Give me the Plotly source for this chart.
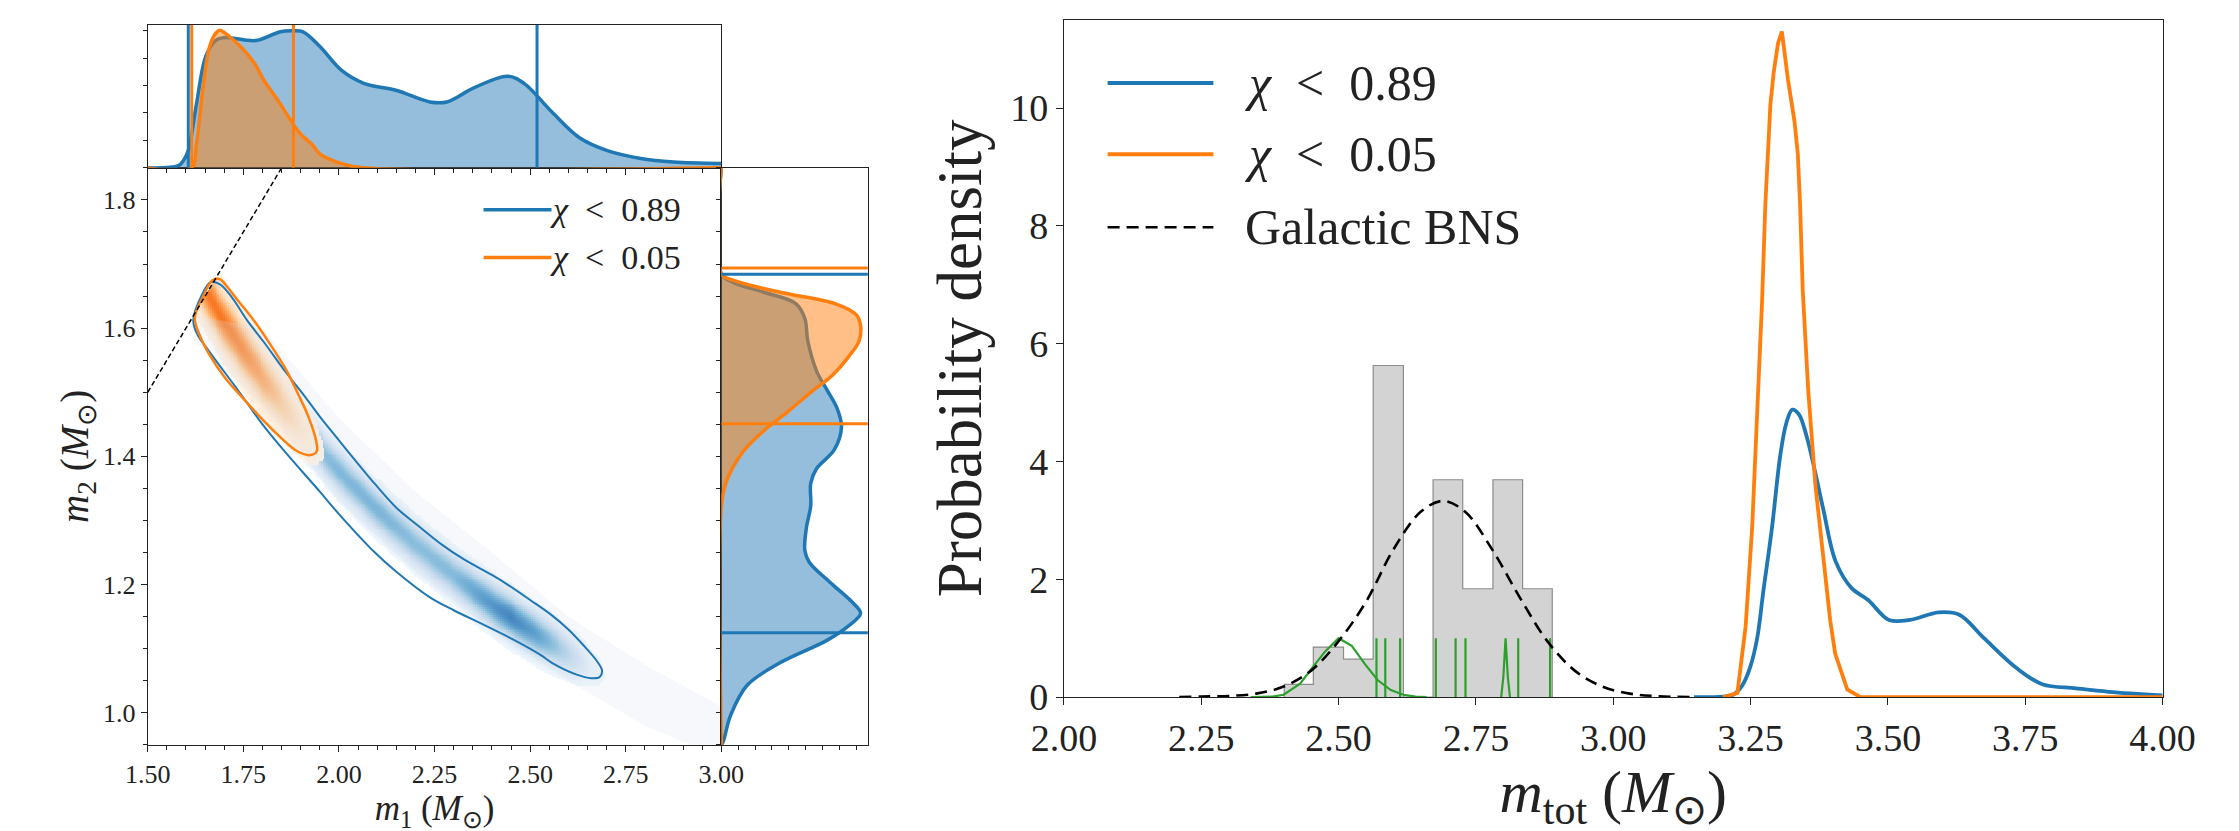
import numpy as np
import plotly.graph_objects as go

W, H = 2239, 831
def px(x): return x / W
def py(y): return 1 - y / H

BLUE = "#1f77b4"
ORANGE = "#ff7f0e"
GREEN = "#2ca02c"
FONT = "Liberation Serif, Times New Roman, serif"

# ---------------- left panel: joint m1-m2 posterior ----------------
ridge_m1 = [1.60, 1.70, 1.80, 1.90, 2.00, 2.10, 2.20, 2.30, 2.40, 2.50, 2.60, 2.70, 2.80, 2.90, 3.00]
ridge_m2 = [1.710, 1.610, 1.523, 1.446, 1.377, 1.317, 1.263, 1.215, 1.169, 1.129, 1.092, 1.057, 1.026, 0.997, 0.969]

blue_amp_m1 = [1.62, 1.70, 1.80, 1.90, 2.00, 2.10, 2.20, 2.30, 2.38, 2.45, 2.52, 2.60, 2.66, 2.72]
blue_amp = [0.28, 0.36, 0.45, 0.55, 0.66, 0.68, 0.62, 0.64, 0.85, 1.00, 0.82, 0.40, 0.10, 0.0]
blue_sigma = 0.021

orange_amp_m1 = [1.62, 1.66, 1.70, 1.75, 1.80, 1.85, 1.90, 1.95, 2.00]
orange_amp = [0.80, 1.00, 1.00, 0.92, 0.74, 0.48, 0.24, 0.06, 0.0]
orange_sigma = 0.027

band_m1 = [1.62, 1.80, 2.00, 2.20, 2.40, 2.60, 2.80, 3.00]
band_upper = [1.62, 1.60, 1.46, 1.345, 1.25, 1.15, 1.075, 1.01]
band_lower = [1.58, 1.48, 1.33, 1.22, 1.13, 1.05, 0.98, 0.93]

blue_contour_m1 = [1.619, 1.640, 1.665, 1.690, 1.720, 1.760, 1.804, 1.860, 1.905, 1.950, 2.000, 2.094, 2.150,
                   2.209, 2.270, 2.325, 2.400, 2.441, 2.500, 2.557, 2.600, 2.640, 2.673, 2.688, 2.682, 2.660,
                   2.620, 2.557, 2.528, 2.460, 2.383, 2.300, 2.238, 2.150, 2.094, 2.000, 1.950, 1.862, 1.800,
                   1.746, 1.700, 1.659, 1.630, 1.619]
blue_contour_m2 = [1.612, 1.650, 1.672, 1.668, 1.648, 1.612, 1.578, 1.532, 1.498, 1.462, 1.425, 1.357, 1.320,
                   1.291, 1.262, 1.240, 1.215, 1.200, 1.176, 1.152, 1.130, 1.105, 1.082, 1.066, 1.056, 1.054,
                   1.060, 1.078, 1.090, 1.113, 1.136, 1.160, 1.180, 1.220, 1.250, 1.310, 1.345, 1.405, 1.450,
                   1.495, 1.532, 1.565, 1.590, 1.612]

orange_contour_m1 = [1.623, 1.645, 1.670, 1.690, 1.703, 1.740, 1.775, 1.820, 1.862, 1.895, 1.920, 1.940, 1.942,
                     1.925, 1.891, 1.850, 1.804, 1.750, 1.703, 1.660, 1.635, 1.623]
orange_contour_m2 = [1.616, 1.650, 1.675, 1.676, 1.668, 1.640, 1.614, 1.575, 1.535, 1.495, 1.462, 1.425, 1.408,
                     1.402, 1.408, 1.428, 1.455, 1.490, 1.522, 1.560, 1.590, 1.616]

equal_mass = [1.50, 1.85]

# top marginal: m1 densities (relative height)
m1_blue_x = [1.50, 1.580, 1.593, 1.606, 1.627, 1.652, 1.678, 1.703, 1.762, 1.787, 1.847, 1.881, 1.905, 1.949,
             2.007, 2.065, 2.151, 2.238, 2.282, 2.354, 2.441, 2.484, 2.557, 2.629, 2.702, 2.789, 2.875, 3.00]
m1_blue_y = [0.0, 0.015, 0.05, 0.12, 0.44, 0.78, 0.89, 0.91, 0.89, 0.89, 0.95, 0.956, 0.95, 0.85,
             0.68, 0.59, 0.54, 0.46, 0.46, 0.56, 0.64, 0.59, 0.39, 0.21, 0.12, 0.065, 0.04, 0.03]
m1_orange_x = [1.50, 1.614, 1.627, 1.644, 1.661, 1.678, 1.688, 1.712, 1.745, 1.779, 1.804, 1.838, 1.872, 1.898,
               1.931, 1.949, 2.007, 2.065, 3.00]
m1_orange_y = [0.0, 0.0, 0.16, 0.55, 0.84, 0.94, 0.96, 0.92, 0.84, 0.73, 0.61, 0.48, 0.34, 0.24,
               0.16, 0.10, 0.03, 0.0, 0.0]
m1_bounds_blue = [1.606, 2.518]
m1_bounds_orange = [1.615, 1.881]

# right marginal: m2 densities (relative width)
m2_blue_y = [0.95, 0.956, 0.996, 1.043, 1.078, 1.113, 1.136, 1.155, 1.171, 1.200, 1.235, 1.253, 1.288, 1.323,
             1.358, 1.381, 1.410, 1.446, 1.475, 1.504, 1.533, 1.580, 1.615, 1.638, 1.656, 1.671, 1.685, 1.85]
m2_blue_x = [0.0, 0.014, 0.063, 0.176, 0.40, 0.72, 0.87, 0.95, 0.90, 0.76, 0.60, 0.57, 0.58, 0.61,
             0.61, 0.65, 0.77, 0.82, 0.79, 0.72, 0.65, 0.59, 0.57, 0.51, 0.29, 0.085, 0.0, 0.0]
m2_orange_y = [0.95, 1.323, 1.358, 1.405, 1.440, 1.469, 1.498, 1.527, 1.556, 1.580, 1.604, 1.621, 1.638, 1.656,
               1.674, 1.685, 1.85]
m2_orange_x = [0.0, 0.0, 0.03, 0.14, 0.29, 0.45, 0.60, 0.76, 0.87, 0.94, 0.95, 0.92, 0.78, 0.40,
               0.09, 0.0, 0.0]
m2_bounds_blue = [1.125, 1.684]
m2_bounds_orange = [1.451, 1.694]

# ---------------- right panel: total mass ----------------
mtot_blue_x = [3.147, 3.200, 3.218, 3.235, 3.249, 3.262, 3.273, 3.289, 3.304, 3.315, 3.326, 3.338, 3.352, 3.368,
               3.383, 3.405, 3.434, 3.464, 3.502, 3.540, 3.592, 3.630, 3.675, 3.736, 3.781, 3.842, 3.902, 4.0]
mtot_blue_y = [0.0, 0.01, 0.04, 0.2, 0.5, 1.0, 1.78, 2.88, 4.1, 4.65, 4.88, 4.8, 4.43, 3.8,
               3.16, 2.3, 1.85, 1.65, 1.31, 1.31, 1.44, 1.40, 1.0, 0.48, 0.22, 0.15, 0.09, 0.03]
mtot_orange_x = [3.200, 3.226, 3.241, 3.253, 3.271, 3.277, 3.286, 3.292, 3.300, 3.307, 3.318, 3.330, 3.336,
                 3.340, 3.345, 3.355, 3.368, 3.381, 3.395, 3.404, 3.426, 3.450, 4.0]
mtot_orange_y = [0.0, 0.07, 1.2, 2.9, 6.74, 8.39, 10.05, 10.6, 11.1, 11.3, 10.49, 9.77, 9.22,
                 8.39, 6.9, 5.2, 3.6, 2.5, 1.3, 0.74, 0.13, 0.0, 0.0]
bns_x = [2.21, 2.25, 2.30, 2.35, 2.40, 2.45, 2.50, 2.55, 2.60, 2.65, 2.69, 2.73, 2.78, 2.83, 2.88, 2.93, 2.98,
         3.03, 3.08, 3.15]
bns_y = [0.0, 0.01, 0.02, 0.06, 0.18, 0.45, 0.95, 1.62, 2.51, 3.15, 3.33, 3.15, 2.5, 1.69, 0.95, 0.45, 0.18,
         0.06, 0.017, 0.0]
hist_edges = [2.401, 2.454, 2.509, 2.563, 2.618, 2.672, 2.726, 2.781, 2.835, 2.889]
hist_heights = [0.215, 0.85, 0.645, 5.63, 0.0, 3.69, 1.84, 3.69, 1.84]
pulsar_wide_x = [2.34, 2.38, 2.40, 2.43, 2.453, 2.476, 2.50, 2.524, 2.548, 2.571, 2.595, 2.618, 2.64, 2.66]
pulsar_wide_y = [0.0, 0.01, 0.04, 0.23, 0.51, 0.78, 1.0, 0.87, 0.56, 0.29, 0.12, 0.04, 0.01, 0.0]
pulsar_mid_x = [2.796, 2.800, 2.804, 2.808, 2.812]
pulsar_mid_y = [0.0, 0.35, 1.0, 0.35, 0.0]
pulsar_narrow = [2.569, 2.585, 2.612, 2.677, 2.713, 2.731, 2.827, 2.885]
pulsar_narrow_peak = [1.0, 1.0, 1.0, 1.0, 1.0, 1.0, 1.0, 1.0]

legend_left = ["<i>χ</i>\u2002<\u20020.89", "<i>χ</i>\u2002<\u20020.05"]
legend_right = ["<i>χ</i>\u2002<\u20020.89", "<i>χ</i>\u2002<\u20020.05", "Galactic BNS"]

# ---------------- build figure ----------------
fig = go.Figure()

# faint chirp-mass band
fig.add_trace(go.Scatter(x=band_m1 + band_m1[::-1], y=band_upper + band_lower[::-1], fill="toself",
                         fillcolor="rgba(215,225,238,0.22)", line=dict(width=0), mode="lines",
                         hoverinfo="skip", xaxis="x", yaxis="y"))

gx = np.linspace(1.5, 3.0, 301)
gy = np.linspace(0.95, 1.85, 301)
GX, GY = np.meshgrid(gx, gy)
ridge = np.interp(GX, ridge_m1, ridge_m2)
dd = GY - ridge
zb = np.interp(GX, blue_amp_m1, blue_amp) * np.exp(-0.5 * (dd / blue_sigma) ** 2)
zb[(zb < 0.04) | (GY > GX)] = np.nan
zo = np.interp(GX, orange_amp_m1, orange_amp) * np.exp(-0.5 * (dd / orange_sigma) ** 2)
zo[(zo < 0.045) | (GY > GX)] = np.nan

blues = [[0, "#f7fbff"], [0.125, "#deebf7"], [0.25, "#c6dbef"], [0.375, "#9ecae1"], [0.5, "#6baed6"],
         [0.625, "#4292c6"], [0.75, "#2171b5"], [0.875, "#08519c"], [1, "#08306b"]]
oranges = [[0, "#fff5eb"], [0.125, "#fee6ce"], [0.25, "#fdd0a2"], [0.375, "#fdae6b"], [0.5, "#fd8d3c"],
           [0.625, "#f16913"], [0.75, "#d94801"], [0.875, "#a63603"], [1, "#7f2704"]]

fig.add_trace(go.Heatmap(x=gx, y=gy, z=np.round(zb, 4), colorscale=blues, zmin=0, zmax=1.3,
                         showscale=False, hoverinfo="skip", xaxis="x", yaxis="y"))
fig.add_trace(go.Heatmap(x=gx, y=gy, z=np.round(zo, 4), colorscale=oranges, zmin=0, zmax=1.75,
                         showscale=False, hoverinfo="skip", xaxis="x", yaxis="y"))

fig.add_trace(go.Scatter(x=blue_contour_m1, y=blue_contour_m2, mode="lines", line=dict(color=BLUE, width=2),
                         line_shape="spline", xaxis="x", yaxis="y"))
fig.add_trace(go.Scatter(x=orange_contour_m1, y=orange_contour_m2, mode="lines",
                         line=dict(color=ORANGE, width=2.5), line_shape="spline", xaxis="x", yaxis="y"))
fig.add_trace(go.Scatter(x=equal_mass, y=equal_mass, mode="lines",
                         line=dict(color="black", width=1.5, dash="5px,3px"), xaxis="x", yaxis="y"))

# top marginal
fig.add_trace(go.Scatter(x=m1_blue_x, y=m1_blue_y, mode="lines", fill="tozeroy", fillcolor="rgba(31,119,180,0.48)",
                         line=dict(color=BLUE, width=3.5), line_shape="spline", xaxis="x2", yaxis="y2"))
fig.add_trace(go.Scatter(x=m1_orange_x, y=m1_orange_y, mode="lines", fill="tozeroy",
                         fillcolor="rgba(255,127,14,0.5)", line=dict(color=ORANGE, width=3.5),
                         line_shape="spline", xaxis="x2", yaxis="y2"))
for vals, col in ((m1_bounds_blue, BLUE), (m1_bounds_orange, ORANGE)):
    xs, ys = [], []
    for v in vals:
        xs += [v, v, None]
        ys += [0, 1, None]
    fig.add_trace(go.Scatter(x=xs, y=ys, mode="lines", line=dict(color=col, width=3), xaxis="x2", yaxis="y2"))

# right marginal
fig.add_trace(go.Scatter(x=m2_blue_x, y=m2_blue_y, mode="lines", fill="tozerox", fillcolor="rgba(31,119,180,0.48)",
                         line=dict(color=BLUE, width=3.5), line_shape="spline", xaxis="x3", yaxis="y3"))
fig.add_trace(go.Scatter(x=m2_orange_x, y=m2_orange_y, mode="lines", fill="tozerox",
                         fillcolor="rgba(255,127,14,0.5)", line=dict(color=ORANGE, width=3.5),
                         line_shape="spline", xaxis="x3", yaxis="y3"))
for vals, col in ((m2_bounds_blue, BLUE), (m2_bounds_orange, ORANGE)):
    xs, ys = [], []
    for v in vals:
        xs += [0, 1, None]
        ys += [v, v, None]
    fig.add_trace(go.Scatter(x=xs, y=ys, mode="lines", line=dict(color=col, width=3), xaxis="x3", yaxis="y3"))

# right panel: histogram (step filled)
hx, hy = [hist_edges[0]], [0]
for i, h in enumerate(hist_heights):
    hx += [hist_edges[i], hist_edges[i + 1]]
    hy += [h, h]
hx.append(hist_edges[-1])
hy.append(0)
fig.add_trace(go.Scatter(x=hx, y=hy, mode="lines", fill="toself", fillcolor="#d3d3d3",
                         line=dict(color="#8c8c8c", width=1.2), xaxis="x4", yaxis="y4"))

# pulsar posteriors
gxs = list(pulsar_wide_x) + [None] + list(pulsar_mid_x) + [None]
gys = list(pulsar_wide_y) + [None] + list(pulsar_mid_y) + [None]
for c, p in zip(pulsar_narrow, pulsar_narrow_peak):
    gxs += [c, c, None]
    gys += [0, p, None]
fig.add_trace(go.Scatter(x=gxs, y=gys, mode="lines", line=dict(color=GREEN, width=2.2), xaxis="x4", yaxis="y4"))

fig.add_trace(go.Scatter(x=bns_x, y=bns_y, mode="lines", line=dict(color="black", width=2.6, dash="12px,7px"),
                         line_shape="spline", xaxis="x4", yaxis="y4"))
fig.add_trace(go.Scatter(x=mtot_blue_x, y=mtot_blue_y, mode="lines", line=dict(color=BLUE, width=3.8),
                         line_shape="spline", xaxis="x4", yaxis="y4"))
fig.add_trace(go.Scatter(x=mtot_orange_x, y=mtot_orange_y, mode="lines", line=dict(color=ORANGE, width=3.8),
                         xaxis="x4", yaxis="y4"))

# ---------------- axes ----------------
AX = dict(showline=True, mirror=True, linecolor="#222", linewidth=1.3, showgrid=False, zeroline=False,
          ticks="outside", tickcolor="#222", tickwidth=1.2, ticklen=6)
main_x_dom = [px(110), px(701)]
main_y_dom = [py(756), py(164)]
tickfont_small = dict(family=FONT, size=26, color="#222")
tickfont_big = dict(family=FONT, size=38, color="#222")
minor = dict(ticks="outside", ticklen=3.5, tickwidth=1, tickcolor="#222", dtick=0.05)

fig.update_layout(
    width=W, height=H, margin=dict(l=0, r=0, t=0, b=0), showlegend=False,
    paper_bgcolor="white", plot_bgcolor="white", font=dict(family=FONT, color="#222"),
    xaxis=dict(AX, domain=main_x_dom, range=[1.5, 3.0], anchor="y", tick0=1.5, dtick=0.25, tickformat=".2f",
               tickfont=tickfont_small, minor=minor,
               title=dict(text="<i>m</i><sub>1</sub> (<i>M</i><sub>⊙</sub>)", font=dict(family=FONT, size=35),
                          standoff=0)),
    yaxis=dict(AX, domain=main_y_dom, range=[0.95, 1.85], anchor="x", tick0=1.0, dtick=0.2, tickformat=".1f",
               tickfont=tickfont_small, minor=minor,
               title=dict(text="<i>m</i><sub>2</sub> (<i>M</i><sub>⊙</sub>)", font=dict(family=FONT, size=39),
                          standoff=2)),
    xaxis2=dict(AX, domain=main_x_dom, range=[1.5, 3.0], anchor="y2", tick0=1.5, dtick=0.25,
                showticklabels=False, minor=minor),
    yaxis2=dict(AX, domain=[py(164), py(17)], range=[0, 1], anchor="x2", tick0=0, dtick=0.1915,
                showticklabels=False, ticklen=4),
    xaxis3=dict(AX, domain=[px(701), px(852)], range=[0, 1], anchor="y3", tick0=0, dtick=0.115,
                showticklabels=False, ticklen=4),
    yaxis3=dict(AX, domain=main_y_dom, range=[0.95, 1.85], anchor="x3", tick0=1.0, dtick=0.05,
                showticklabels=False, ticklen=4),
    xaxis4=dict(AX, domain=[px(1054), px(2186)], range=[2.0, 4.0], anchor="y4", tick0=2.0, dtick=0.25,
                tickformat=".2f", tickfont=tickfont_big, ticklen=7,
                title=dict(text="<i>m</i><sub>tot</sub> (<i>M</i><sub>⊙</sub>)", font=dict(family=FONT, size=60),
                           standoff=4)),
    yaxis4=dict(AX, domain=[py(707), py(12)], range=[0, 11.5], anchor="x4", tick0=0, dtick=2,
                tickfont=tickfont_big, ticklen=7,
                title=dict(text="Probability density", font=dict(family=FONT, size=63), standoff=8)),
)

# ---------------- legends ----------------
shapes, annots = [], []
for (yy, col, dash), txt in zip([(207, BLUE, "solid"), (256, ORANGE, "solid")], legend_left):
    shapes.append(dict(type="line", xref="paper", yref="paper", x0=px(456), x1=px(526), y0=py(yy), y1=py(yy),
                       line=dict(color=col, width=3.5, dash=dash)))
    annots.append(dict(xref="paper", yref="paper", x=px(522), y=py(yy), xanchor="left", yanchor="middle",
                       text=txt, showarrow=False, font=dict(family=FONT, size=34, color="#222")))
for (yy, col, dash, w), txt in zip([(77, BLUE, "solid", 4), (150, ORANGE, "solid", 4), (225, "black", "12px,7px", 2.6)],
                                   legend_right):
    shapes.append(dict(type="line", xref="paper", yref="paper", x0=px(1099), x1=px(1208), y0=py(yy), y1=py(yy),
                       line=dict(color=col, width=w, dash=dash)))
    annots.append(dict(xref="paper", yref="paper", x=px(1238), y=py(yy), xanchor="left", yanchor="middle",
                       text=txt, showarrow=False, font=dict(family=FONT, size=50, color="#222")))
fig.update_layout(shapes=shapes, annotations=annots)

fig.write_html("out.html")
